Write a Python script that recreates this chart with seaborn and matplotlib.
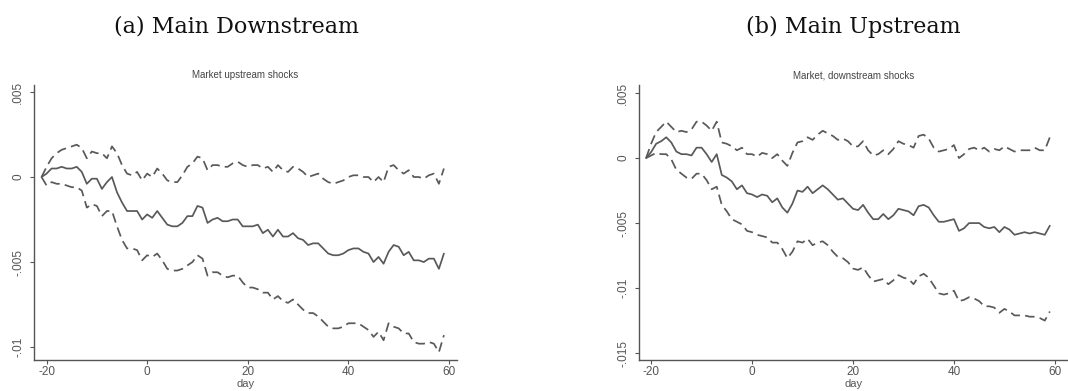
import numpy as np
import pandas as pd
import matplotlib
matplotlib.use("Agg")
import matplotlib.pyplot as plt
import seaborn as sns

# Event window (days relative to the event)
days = list(range(-21, 60))

# Panel (a): market response to upstream shocks
up_mean = [0.0, 0.0002, 0.0005, 0.0005, 0.0006, 0.0005, 0.0005, 0.0006, 0.0003, -0.0004,
           -0.0001, -0.0001, -0.0007, -0.0003, 0.0, -0.0009, -0.0015, -0.0020, -0.0020, -0.0020,
           -0.0025, -0.0022, -0.0024, -0.0020, -0.0024, -0.0028, -0.0029, -0.0029, -0.0027, -0.0023,
           -0.0023, -0.0017, -0.0018, -0.0027, -0.0025, -0.0024, -0.0026, -0.0026, -0.0025, -0.0025,
           -0.0029, -0.0029, -0.0029, -0.0028, -0.0033, -0.0031, -0.0035, -0.0031, -0.0035, -0.0035,
           -0.0033, -0.0036, -0.0037, -0.0040, -0.0039, -0.0039, -0.0042, -0.0045, -0.0046, -0.0046,
           -0.0045, -0.0043, -0.0042, -0.0042, -0.0044, -0.0045, -0.0050, -0.0047, -0.0051, -0.0044,
           -0.0040, -0.0041, -0.0046, -0.0044, -0.0049, -0.0049, -0.0050, -0.0048, -0.0048, -0.0054,
           -0.0045]
up_hi = [0.0, 0.0006, 0.0011, 0.0014, 0.0016, 0.0017, 0.0018, 0.0019, 0.0017, 0.0011,
         0.0015, 0.0014, 0.0014, 0.0011, 0.0018, 0.0014, 0.0007, 0.0002, 0.0001, 0.0003,
         -0.0002, 0.0002, 0.0, 0.0005, 0.0002, -0.0002, -0.0003, -0.0003, 0.0001, 0.0006,
         0.0008, 0.0012, 0.0011, 0.0004, 0.0007, 0.0007, 0.0006, 0.0006, 0.0008, 0.0009,
         0.0007, 0.0006, 0.0007, 0.0007, 0.0005, 0.0006, 0.0003, 0.0007, 0.0004, 0.0003,
         0.0006, 0.0005, 0.0003, 0.0, 0.0001, 0.0002, -0.0001, -0.0003, -0.0004, -0.0003,
         -0.0002, 0.0, 0.0001, 0.0001, 0.0, 0.0, -0.0003, 0.0, -0.0003, 0.0006,
         0.0007, 0.0004, 0.0002, 0.0004, 0.0, 0.0, -0.0001, 0.0001, 0.0002, -0.0004,
         0.0005]
up_lo = [0.0, -0.0005, -0.0003, -0.0004, -0.0004, -0.0005, -0.0006, -0.0006, -0.0008, -0.0018,
         -0.0016, -0.0017, -0.0023, -0.0020, -0.0020, -0.0029, -0.0037, -0.0042, -0.0042, -0.0043,
         -0.0049, -0.0046, -0.0047, -0.0045, -0.0049, -0.0054, -0.0055, -0.0055, -0.0054, -0.0052,
         -0.0050, -0.0046, -0.0048, -0.0058, -0.0056, -0.0056, -0.0058, -0.0059, -0.0058, -0.0058,
         -0.0062, -0.0065, -0.0065, -0.0066, -0.0068, -0.0068, -0.0072, -0.0070, -0.0073, -0.0074,
         -0.0072, -0.0075, -0.0078, -0.0080, -0.0080, -0.0082, -0.0085, -0.0088, -0.0089, -0.0089,
         -0.0088, -0.0086, -0.0086, -0.0086, -0.0088, -0.0090, -0.0094, -0.0091, -0.0096, -0.0086,
         -0.0088, -0.0089, -0.0092, -0.0092, -0.0097, -0.0098, -0.0098, -0.0097, -0.0098, -0.0103,
         -0.0093]

# Panel (b): market response to downstream shocks
dn_mean = [0.0, 0.00046, 0.0011, 0.0013, 0.0016, 0.0012, 0.0005, 0.0003, 0.0003, 0.0002,
           0.0008, 0.0008, 0.0003, -0.0003, 0.0003, -0.0013, -0.0015, -0.0018, -0.0024, -0.0021,
           -0.0027, -0.0028, -0.0030, -0.0028, -0.0029, -0.0034, -0.0031, -0.0038, -0.0042, -0.0035,
           -0.0025, -0.0026, -0.0022, -0.0027, -0.0024, -0.0021, -0.0024, -0.0028, -0.0032, -0.0031,
           -0.0035, -0.0039, -0.0040, -0.0036, -0.0042, -0.0047, -0.0047, -0.0043, -0.0047, -0.0044,
           -0.0039, -0.0040, -0.0041, -0.0044, -0.0037, -0.0036, -0.0038, -0.0044, -0.0049, -0.0049,
           -0.0048, -0.0047, -0.0056, -0.0054, -0.0050, -0.0050, -0.0050, -0.0053, -0.0054, -0.0053,
           -0.0057, -0.0053, -0.0055, -0.0059, -0.0058, -0.0057, -0.0058, -0.0057, -0.0058, -0.0059,
           -0.0052]
dn_hi = [0.0, 0.0011, 0.0020, 0.0024, 0.0028, 0.0024, 0.0020, 0.0021, 0.0020, 0.0022,
         0.0028, 0.0028, 0.0025, 0.0021, 0.0028, 0.0012, 0.0011, 0.0009, 0.0006, 0.0008,
         0.0003, 0.0003, 0.0001, 0.0004, 0.0003, 0.0, 0.0003, -0.0002, -0.0006, 0.0004,
         0.0012, 0.0013, 0.0016, 0.0014, 0.0018, 0.0021, 0.0019, 0.0017, 0.0014, 0.0015,
         0.0013, 0.0009, 0.0009, 0.0013, 0.0006, 0.0002, 0.0003, 0.0006, 0.0003, 0.0007,
         0.0013, 0.0011, 0.0010, 0.0008, 0.0017, 0.0018, 0.0015, 0.0008, 0.0005, 0.0006,
         0.0007, 0.0010, 0.0, 0.0003, 0.0007, 0.0008, 0.0006, 0.0008, 0.0005, 0.0007,
         0.0006, 0.0009, 0.0007, 0.0005, 0.0006, 0.0006, 0.0006, 0.0008, 0.0006, 0.0006,
         0.0016]
dn_lo = [0.0, 0.0002, 0.0004, 0.0003, 0.0003, -0.0001, -0.0009, -0.0012, -0.0015, -0.0016,
         -0.0012, -0.0012, -0.0017, -0.0024, -0.0022, -0.0036, -0.0041, -0.0047, -0.0049, -0.0051,
         -0.0056, -0.0057, -0.0059, -0.0060, -0.0061, -0.0065, -0.0065, -0.0070, -0.0077, -0.0072,
         -0.0064, -0.0065, -0.0062, -0.0067, -0.0065, -0.0064, -0.0067, -0.0072, -0.0076, -0.0077,
         -0.0080, -0.0085, -0.0086, -0.0084, -0.0090, -0.0095, -0.0094, -0.0093, -0.0097, -0.0094,
         -0.0090, -0.0092, -0.0093, -0.0097, -0.0091, -0.0089, -0.0092, -0.0098, -0.0104, -0.0105,
         -0.0104, -0.0102, -0.0110, -0.0109, -0.0107, -0.0108, -0.0110, -0.0114, -0.0114, -0.0115,
         -0.0119, -0.0116, -0.0118, -0.0121, -0.0121, -0.0121, -0.0122, -0.0122, -0.0123, -0.0125,
         -0.0118]

x_ticks = [-20, 0, 20, 40, 60]
a_yticks = [0.005, 0.0, -0.005, -0.01]
a_ylabels = [".005", "0", "-.005", "-.01"]
b_yticks = [0.005, 0.0, -0.005, -0.01, -0.015]
b_ylabels = [".005", "0", "-.005", "-.01", "-.015"]

captions = ["(a) Main Downstream", "(b) Main Upstream"]
titles = ["Market upstream shocks", "Market, downstream shocks"]


def long_frame(mean, hi, lo):
    return pd.concat([
        pd.DataFrame({"day": days, "car": hi, "band": "hi"}),
        pd.DataFrame({"day": days, "car": mean, "band": "mean"}),
        pd.DataFrame({"day": days, "car": lo, "band": "lo"}),
    ], ignore_index=True)


sns.set_style("ticks")
narrow = ["Liberation Sans Narrow", "Liberation Sans", "DejaVu Sans"]
regular = ["Liberation Sans", "DejaVu Sans"]
plt.rcParams["font.family"] = narrow

W, H = 1068, 391
fig = plt.figure(figsize=(W / 100, H / 100), dpi=100)
fig.patch.set_facecolor("white")

line_col = "#595959"
axis_col = "#555555"
dash_map = {"mean": "", "hi": (5.5, 3), "lo": (5.5, 3)}


def px_axes(left, right, bottom, top):
    return fig.add_axes([left / W, 1 - bottom / H, (right - left) / W, (bottom - top) / H])


panels = [
    dict(ax=px_axes(34, 457, 360, 85), data=long_frame(up_mean, up_hi, up_lo),
         xlim=(-22.5, 61.6), ylim=(-0.01076, 0.00541),
         yt=a_yticks, yl=a_ylabels),
    dict(ax=px_axes(639, 1068, 360, 85), data=long_frame(dn_mean, dn_hi, dn_lo),
         xlim=(-22.4, 62.6), ylim=(-0.01553, 0.00562),
         yt=b_yticks, yl=b_ylabels),
]

for i, p in enumerate(panels):
    ax = p["ax"]
    sns.lineplot(data=p["data"], x="day", y="car", style="band", units="band",
                 estimator=None, dashes=dash_map, color=line_col, linewidth=1.25,
                 legend=False, ax=ax)
    ax.set_xlim(*p["xlim"])
    ax.set_ylim(*p["ylim"])
    ax.set_xticks(x_ticks)
    ax.set_xticklabels([str(t) for t in x_ticks], family=regular, fontsize=8.5)
    ax.set_yticks(p["yt"])
    ax.set_yticklabels(p["yl"], rotation=90, va="center", fontsize=8.5)
    sns.despine(ax=ax)
    for s in ("left", "bottom"):
        ax.spines[s].set_color(axis_col)
        ax.spines[s].set_linewidth(1.0)
    ax.tick_params(axis="both", colors=axis_col, length=3, width=0.8)
    ax.tick_params(axis="y", pad=4)
    ax.tick_params(axis="x", pad=1.5)
    ax.set_xlabel("day", fontsize=8, family=regular, color=axis_col, labelpad=0.5)
    ax.set_ylabel("")
    ax.set_title(titles[i], fontsize=7, color="#444444", pad=5)

fig.text(236 / W, 1 - 27 / H, captions[0], ha="center", va="center",
         fontsize=16, family=["DejaVu Serif"], color="#111111")
fig.text(853 / W, 1 - 27 / H, captions[1], ha="center", va="center",
         fontsize=16, family=["DejaVu Serif"], color="#111111")

fig.savefig("out.png", dpi=100, facecolor="white")
